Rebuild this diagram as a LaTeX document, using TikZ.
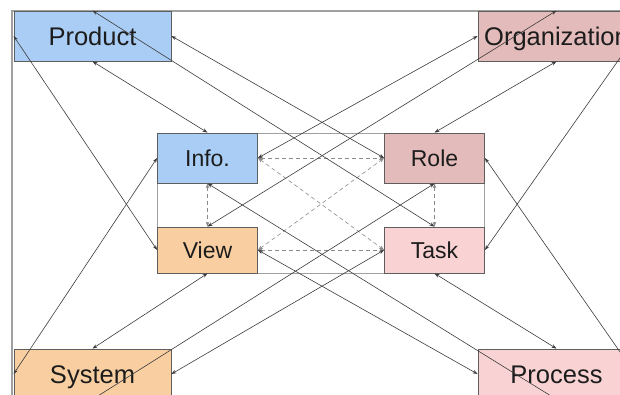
\documentclass[tikz,border=0pt]{standalone}
\usepackage{fontspec}
\setmainfont{Liberation Sans}
\usetikzlibrary{arrows.meta}
\definecolor{prodblue}{HTML}{A9CDF4}
\definecolor{orgrose}{HTML}{E3BBBA}
\definecolor{taskpink}{HTML}{F9D3D3}
\definecolor{viewpeach}{HTML}{F9CFA2}
\definecolor{boxline}{HTML}{5E5E5E}
\definecolor{ink}{HTML}{1C1C1C}
\definecolor{linkc}{HTML}{3C3C3C}
\definecolor{dashc}{HTML}{8A8A8A}
\definecolor{framec}{HTML}{A0A0A0}
\begin{document}
\begin{tikzpicture}[x=1pt,y=-1pt,
  box/.style={draw=boxline, line width=0.8pt, inner sep=0pt, text=ink,
    text depth=0pt},
  outerbox/.style={box, minimum width=157pt, minimum height=50pt,
    text height=18.3pt, font=\fontsize{25.5}{30}\selectfont},
  innerbox/.style={box, minimum width=100pt, text height=16.5pt,
    font=\fontsize{23}{28}\selectfont},
  link/.style={draw=linkc, line width=0.6pt,
    {Stealth[length=5pt,width=3.6pt]}-{Stealth[length=5pt,width=3.6pt]}},
  dlink/.style={link, draw=dashc, dash pattern=on 4pt off 3pt}]

\useasboundingbox (0,0) rectangle (620,394);
\clip (0,0) rectangle (620,394);
\fill[white] (0,0) rectangle (620,394);

% frames
\draw[framec, line width=1.2pt] (12,400) -- (12,11) -- (640,11);
\draw[framec, line width=0.8pt] (157.5,133) rectangle (484.5,273);

% outer boxes
\node[outerbox, fill=prodblue]  (product) at (92.5,36)  {Product};
\node[outerbox, fill=orgrose]   (org)     at (556.5,36) {Organization};
\node[outerbox, fill=viewpeach] (system)  at (92.5,374) {System};
\node[outerbox, fill=taskpink]  (process) at (556.5,374){Process};

% inner boxes
\node[innerbox, minimum height=50pt, fill=prodblue]  (info) at (207.5,158) {Info.};
\node[innerbox, minimum height=50pt, fill=orgrose]   (role) at (434.5,158) {Role};
\node[innerbox, minimum height=46pt, fill=viewpeach] (view) at (207.5,250) {View};
\node[innerbox, minimum height=46pt, fill=taskpink]  (task) at (434.5,250) {Task};

% links between inner boxes
\draw[dlink] (info.east)  -- (role.west);
\draw[dlink] (view.east)  -- (task.west);
\draw[dlink] (info.south) -- (view.north);
\draw[dlink] (role.south) -- (task.north);
\draw[dlink] (info.east)  -- (task.west);
\draw[dlink] (view.east)  -- (role.west);

% Product
\draw[link] (product.north) -- (task.north);
\draw[link] (product.east)  -- (role.west);
\draw[link] (product.south) -- (info.north);
\draw[link] (product.west)  -- (view.west);
% Organization
\draw[link] (org.north) -- (view.north);
\draw[link] (org.west)  -- (info.east);
\draw[link] (org.south) -- (role.north);
\draw[link] (org.east)  -- (task.east);
% System
\draw[link] (system.north) -- (view.south);
\draw[link] (system.west)  -- (info.west);
\draw[link] (system.east)  -- (task.west);
\draw[link] (system.south) -- (role.south);
% Process
\draw[link] (process.north) -- (task.south);
\draw[link] (process.west)  -- (view.east);
\draw[link] (process.south) -- (info.south);
\draw[link] (process.east)  -- (role.east);
\end{tikzpicture}
\end{document}
